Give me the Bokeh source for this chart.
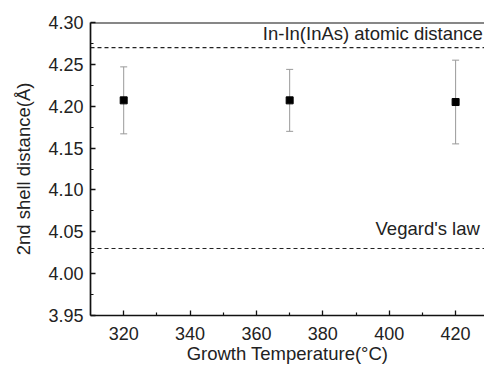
from bokeh.plotting import figure
from bokeh.models import Range1d, Span, FixedTicker, PrintfTickFormatter, Whisker, ColumnDataSource
from bokeh.core.properties import value
from bokeh.embed import file_html
from bokeh.resources import INLINE

# data
temps = [320, 370, 420]
dist = [4.207, 4.207, 4.205]
err = [0.040, 0.037, 0.050]
ref_levels = [4.27, 4.03]
ref_labels = ["In-In(InAs) atomic distance", "Vegard's law"]
x_ticks = [320, 340, 360, 380, 400, 420]
y_ticks = [3.95, 4.00, 4.05, 4.10, 4.15, 4.20, 4.25, 4.30]

FONT = "Liberation Sans"
FS_TICK = "18px"
FS_LAB = "18.5px"

p = figure(width=484, height=369, output_backend="svg", toolbar_location=None,
           x_range=Range1d(310, 428.7), y_range=Range1d(3.95, 4.30),
           min_border_left=90, min_border_right=0, min_border_top=22, min_border_bottom=54)
p.outline_line_color = None
p.grid.visible = False
p.background_fill_color = "white"
p.border_fill_color = "white"

for ax in (p.xaxis[0], p.yaxis[0]):
    ax.axis_line_width = 1.7
    ax.axis_line_color = "#111111"
    ax.major_tick_in = 5
    ax.major_tick_out = 0
    ax.minor_tick_in = 3
    ax.minor_tick_out = 0
    ax.major_tick_line_width = 1.3
    ax.minor_tick_line_width = 1.2
    ax.major_tick_line_color = "#111111"
    ax.minor_tick_line_color = "#111111"
    ax.major_label_text_font = FONT
    ax.major_label_text_font_size = FS_TICK
    ax.major_label_text_color = "#222222"
    ax.axis_label_text_font = FONT
    ax.axis_label_text_font_size = FS_LAB
    ax.axis_label_text_font_style = "normal"
    ax.axis_label_text_color = "#222222"

p.xaxis.ticker = FixedTicker(ticks=x_ticks, minor_ticks=[330, 350, 370, 390, 410])
p.yaxis.ticker = FixedTicker(ticks=y_ticks, minor_ticks=[3.975, 4.025, 4.075, 4.125, 4.175, 4.225, 4.275])
p.yaxis.formatter = PrintfTickFormatter(format="%.2f")
p.xaxis.axis_label = "Growth Temperature(°C)"
p.yaxis.axis_label = "2nd shell distance(Å)"
p.xaxis.major_label_standoff = 11
p.yaxis.major_label_standoff = 7
p.xaxis.axis_label_standoff = 0
p.yaxis.axis_label_standoff = 11

# top frame line
p.add_layout(Span(location=4.30, dimension="width", line_color="#111111", line_width=1.8))

# reference dashed lines
for lv in ref_levels:
    p.add_layout(Span(location=lv, dimension="width", line_color="#222222",
                      line_width=1.1, line_dash="4 3"))

# labels for reference lines
p.text(x=[428.2, 427.3], y=[ref_levels[0] + 0.0168, ref_levels[1] + 0.024], text=ref_labels,
       text_font=value(FONT), text_font_size=FS_LAB, text_color="#222222",
       text_align="right", text_baseline="alphabetic")

# error bars
src = ColumnDataSource(dict(x=temps, y=dist,
                            lo=[d - e for d, e in zip(dist, err)],
                            hi=[d + e for d, e in zip(dist, err)]))
w = Whisker(source=src, base="x", lower="lo", upper="hi", line_color="#999999", line_width=1)
w.upper_head.size = 7
w.lower_head.size = 7
w.upper_head.line_color = "#999999"
w.lower_head.line_color = "#999999"
p.add_layout(w)

p.scatter(x="x", y="y", source=src, marker="square", size=7, color="black")

open("out.html", "w").write(file_html(p, INLINE))
